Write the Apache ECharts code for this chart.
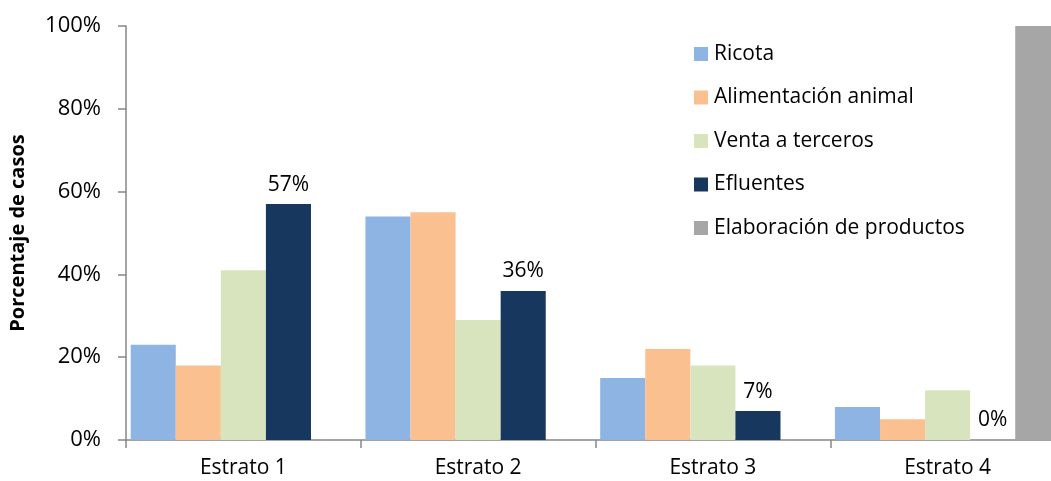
<!DOCTYPE html>
<html>
<head>
<meta charset="utf-8">
<script src="https://cdn.jsdelivr.net/npm/echarts@6/dist/echarts.min.js"></script>
<style>html,body{margin:0;padding:0;background:#fff;}#c{width:1051px;height:481px;}</style>
</head>
<body>
<div id="c"></div>
<script>
var categories = ['Estrato 1', 'Estrato 2', 'Estrato 3', 'Estrato 4'];
var ricota = [23, 54, 15, 8];
var alimentacion = [18, 55, 22, 5];
var venta = [41, 29, 18, 12];
var efluentes = [57, 36, 7, 0];
var elaboracion = [0, 0, 0, 100];
var yTicks = [0, 20, 40, 60, 80, 100];

var FONT = '"Open Sans", sans-serif';
var chart = echarts.init(document.getElementById('c'));
function bar(name, data, color, label) {
  return {
    name: name, type: 'bar', data: data, barGap: '0%', barCategoryGap: '4%',
    itemStyle: { color: color },
    label: label ? { show: true, position: 'top', distance: 9, formatter: '{c}%', fontSize: 21, color: '#000', fontFamily: FONT } : { show: false }
  };
}
chart.setOption({
  animation: false,
  textStyle: { fontFamily: FONT },
  grid: { left: 126, top: 26, bottom: 41, width: 939, containLabel: false, outerBoundsMode: 'none' },
  legend: {
    orient: 'vertical', left: 689, top: 37, itemWidth: 14, itemHeight: 14, itemGap: 19.5,
    icon: 'rect',
    textStyle: { fontSize: 21, lineHeight: 24, color: '#000', fontFamily: FONT, padding: [0, 0, 0, 1] },
    data: ['Ricota', 'Alimentación animal', 'Venta a terceros', 'Efluentes', 'Elaboración de productos']
  },
  xAxis: {
    type: 'category', data: categories,
    axisLine: { lineStyle: { color: '#868686', width: 1.5 } },
    axisTick: { show: true, length: 8, lineStyle: { color: '#868686', width: 1.5 } },
    axisLabel: { fontSize: 21, color: '#000', margin: 18, fontFamily: FONT }
  },
  yAxis: {
    type: 'value', min: 0, max: 100, interval: 20,
    name: 'Porcentaje de casos', nameLocation: 'middle', nameGap: 98, nameRotate: 90,
    nameTextStyle: { fontSize: 20, fontWeight: 'bold', color: '#000', fontFamily: FONT },
    axisLine: { show: true, lineStyle: { color: '#868686', width: 1.5 } },
    axisTick: { show: true, length: 8, lineStyle: { color: '#868686', width: 1.5 } },
    splitLine: { show: false },
    axisLabel: { fontSize: 22, color: '#000', margin: 25, formatter: function (v) { return yTicks.indexOf(v) >= 0 ? v + '%' : ''; }, fontFamily: FONT }
  },
  series: [
    bar('Ricota', ricota, '#8EB4E3'),
    bar('Alimentación animal', alimentacion, '#FAC090'),
    bar('Venta a terceros', venta, '#D7E4BD'),
    bar('Efluentes', efluentes, '#17375E', true),
    bar('Elaboración de productos', elaboracion, '#A6A6A6')
  ]
});
</script>
</body>
</html>
